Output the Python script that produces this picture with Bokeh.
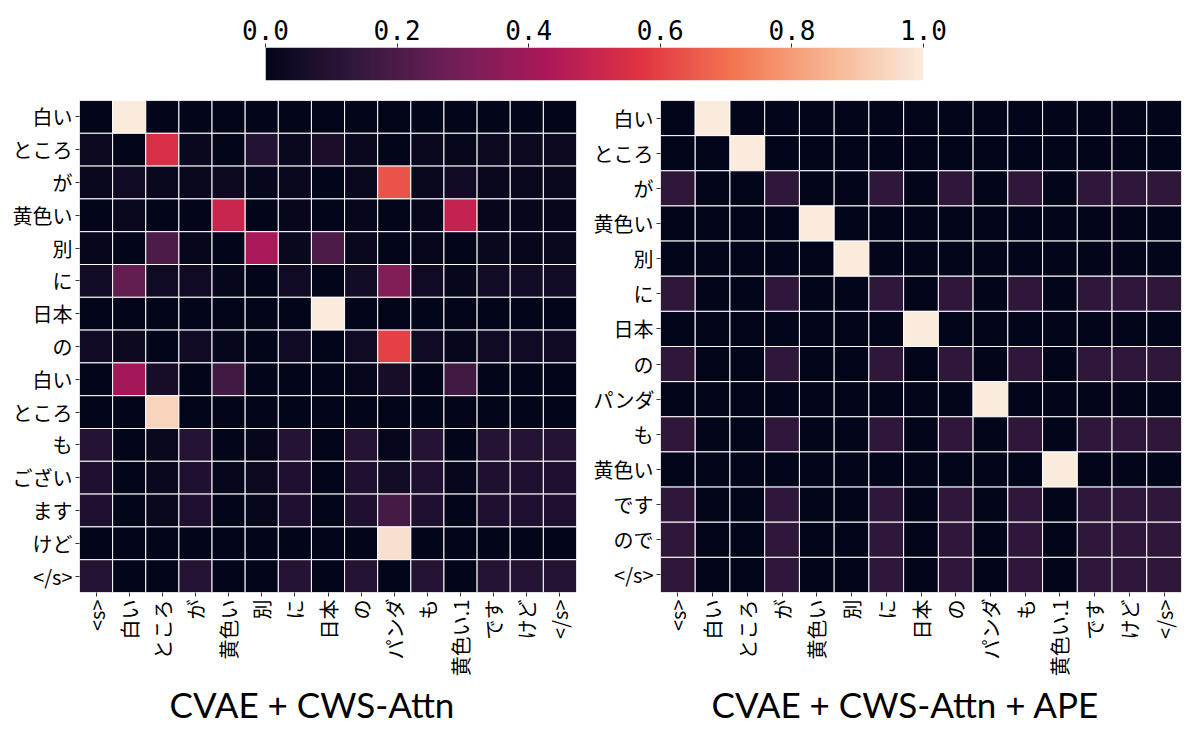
import math
import numpy as np
from bokeh.plotting import figure
from bokeh.models import (LinearColorMapper, FixedTicker, ColumnDataSource, Title,
                          Range1d, PrintfTickFormatter)
from bokeh.transform import transform
from bokeh.layouts import column, row
from bokeh.embed import file_html
from bokeh.resources import INLINE

# ---------------- data ----------------
col_labels = ["<s>", "白い", "ところ", "が", "黄色い", "別", "に", "日本", "の",
              "パンダ", "も", "黄色い.1", "です", "けど", "</s>"]
left_rows = ["白い", "ところ", "が", "黄色い", "別", "に", "日本", "の", "白い",
             "ところ", "も", "ござい", "ます", "けど", "</s>"]
right_rows = ["白い", "ところ", "が", "黄色い", "別", "に", "日本", "の", "パンダ",
              "も", "黄色い", "です", "ので", "</s>"]

left_values = [
    [0.00, 1.00, 0.00, 0.00, 0.00, 0.00, 0.00, 0.00, 0.00, 0.00, 0.00, 0.00, 0.00, 0.00, 0.00],
    [0.03, 0.00, 0.55, 0.02, 0.00, 0.09, 0.02, 0.07, 0.02, 0.00, 0.02, 0.01, 0.03, 0.03, 0.03],
    [0.02, 0.04, 0.02, 0.02, 0.03, 0.01, 0.02, 0.00, 0.02, 0.64, 0.02, 0.04, 0.02, 0.02, 0.02],
    [0.00, 0.02, 0.00, 0.00, 0.50, 0.00, 0.01, 0.00, 0.01, 0.00, 0.01, 0.49, 0.01, 0.01, 0.01],
    [0.01, 0.00, 0.20, 0.01, 0.00, 0.42, 0.02, 0.20, 0.02, 0.00, 0.01, 0.00, 0.02, 0.01, 0.02],
    [0.05, 0.25, 0.04, 0.04, 0.01, 0.00, 0.04, 0.00, 0.05, 0.33, 0.04, 0.01, 0.05, 0.05, 0.05],
    [0.00, 0.00, 0.00, 0.00, 0.00, 0.00, 0.00, 1.00, 0.00, 0.00, 0.00, 0.00, 0.00, 0.00, 0.00],
    [0.04, 0.03, 0.00, 0.04, 0.01, 0.00, 0.04, 0.00, 0.04, 0.60, 0.04, 0.01, 0.04, 0.04, 0.04],
    [0.00, 0.41, 0.06, 0.00, 0.17, 0.00, 0.00, 0.00, 0.01, 0.06, 0.00, 0.17, 0.00, 0.00, 0.00],
    [0.00, 0.00, 0.94, 0.00, 0.00, 0.00, 0.00, 0.00, 0.00, 0.00, 0.00, 0.00, 0.00, 0.00, 0.00],
    [0.10, 0.00, 0.02, 0.10, 0.00, 0.01, 0.10, 0.00, 0.10, 0.01, 0.10, 0.00, 0.10, 0.10, 0.10],
    [0.08, 0.00, 0.02, 0.08, 0.01, 0.03, 0.08, 0.00, 0.08, 0.05, 0.08, 0.01, 0.08, 0.08, 0.08],
    [0.08, 0.00, 0.02, 0.08, 0.00, 0.01, 0.08, 0.00, 0.08, 0.18, 0.08, 0.00, 0.08, 0.08, 0.08],
    [0.00, 0.00, 0.00, 0.00, 0.00, 0.00, 0.00, 0.00, 0.00, 0.97, 0.00, 0.00, 0.00, 0.00, 0.00],
    [0.10, 0.00, 0.00, 0.10, 0.00, 0.00, 0.10, 0.00, 0.10, 0.00, 0.10, 0.00, 0.10, 0.10, 0.10],
]

right_values = [
    [0.000, 1.000, 0.000, 0.000, 0.000, 0.000, 0.000, 0.000, 0.000, 0.000, 0.000, 0.000, 0.000, 0.000, 0.000],
    [0.000, 0.000, 1.000, 0.000, 0.000, 0.000, 0.000, 0.000, 0.000, 0.000, 0.000, 0.000, 0.000, 0.000, 0.000],
    [0.125, 0.000, 0.000, 0.125, 0.000, 0.000, 0.125, 0.000, 0.125, 0.000, 0.125, 0.000, 0.125, 0.125, 0.125],
    [0.000, 0.000, 0.000, 0.000, 1.000, 0.000, 0.000, 0.000, 0.000, 0.000, 0.000, 0.000, 0.000, 0.000, 0.000],
    [0.000, 0.000, 0.000, 0.000, 0.000, 1.000, 0.000, 0.000, 0.000, 0.000, 0.000, 0.000, 0.000, 0.000, 0.000],
    [0.125, 0.000, 0.000, 0.125, 0.000, 0.000, 0.125, 0.000, 0.125, 0.000, 0.125, 0.000, 0.125, 0.125, 0.125],
    [0.000, 0.000, 0.000, 0.000, 0.000, 0.000, 0.000, 1.000, 0.000, 0.000, 0.000, 0.000, 0.000, 0.000, 0.000],
    [0.125, 0.000, 0.000, 0.125, 0.000, 0.000, 0.125, 0.000, 0.125, 0.000, 0.125, 0.000, 0.125, 0.125, 0.125],
    [0.000, 0.000, 0.000, 0.000, 0.000, 0.000, 0.000, 0.000, 0.000, 1.000, 0.000, 0.000, 0.000, 0.000, 0.000],
    [0.125, 0.000, 0.000, 0.125, 0.000, 0.000, 0.125, 0.000, 0.125, 0.000, 0.125, 0.000, 0.125, 0.125, 0.125],
    [0.000, 0.000, 0.000, 0.000, 0.000, 0.000, 0.000, 0.000, 0.000, 0.000, 0.000, 1.000, 0.000, 0.000, 0.000],
    [0.125, 0.000, 0.000, 0.125, 0.000, 0.000, 0.125, 0.000, 0.125, 0.000, 0.125, 0.000, 0.125, 0.125, 0.125],
    [0.125, 0.000, 0.000, 0.125, 0.000, 0.000, 0.125, 0.000, 0.125, 0.000, 0.125, 0.000, 0.125, 0.125, 0.125],
    [0.125, 0.000, 0.000, 0.125, 0.000, 0.000, 0.125, 0.000, 0.125, 0.000, 0.125, 0.000, 0.125, 0.125, 0.125],
]

colorbar_ticks = [0.0, 0.2, 0.4, 0.6, 0.8, 1.0]
left_title = "CVAE + CWS-Attn"
right_title = "CVAE + CWS-Attn + APE"

# ---------------- rocket-like palette ----------------
anchor_hex = ["#03051a", "#35193e", "#701f57", "#ad1759", "#e13342",
              "#f37651", "#f6b48f", "#faebdd"]
anchor_pos = [0.0, 1 / 7, 2 / 7, 3 / 7, 4 / 7, 5 / 7, 6 / 7, 1.0]
anchor_rgb = np.array([[int(h[i:i + 2], 16) for i in (1, 3, 5)] for h in anchor_hex], float)
t = np.linspace(0, 1, 256)
palette = []
for tv in t:
    rgb = [np.interp(tv, anchor_pos, anchor_rgb[:, k]) for k in range(3)]
    palette.append("#%02x%02x%02x" % tuple(int(round(c)) for c in rgb))

mapper = LinearColorMapper(palette=palette, low=0.0, high=1.0)

JP_FONT = "Noto Sans CJK JP"
TITLE_FONT = "Lato"
FIG_H = 643


def heatmap(rows, values, title, width, bl, br, bt, bb, title_offset):
    ncol = len(col_labels)
    nrow = len(rows)
    xs, ys, vs = [], [], []
    for r, rv in enumerate(values):
        for c, v in enumerate(rv):
            xs.append(c + 0.5)
            ys.append(r + 0.5)
            vs.append(v)
    src = ColumnDataSource(dict(x=xs, y=ys, v=vs))
    p = figure(width=width, height=FIG_H, x_range=Range1d(0, ncol), y_range=Range1d(nrow, 0),
               output_backend="svg", toolbar_location=None,
               min_border_left=bl, min_border_right=br, min_border_top=bt, min_border_bottom=bb)
    p.rect(x="x", y="y", width=1, height=1, source=src,
           fill_color=transform("v", mapper), line_color="white", line_width=1)
    p.grid.visible = False
    p.outline_line_color = None
    p.background_fill_color = "white"
    p.border_fill_color = "white"

    p.xaxis.ticker = FixedTicker(ticks=[i + 0.5 for i in range(ncol)])
    p.xaxis.major_label_overrides = {i + 0.5: lab for i, lab in enumerate(col_labels)}
    p.xaxis.major_label_orientation = math.pi / 2
    p.yaxis.ticker = FixedTicker(ticks=[i + 0.5 for i in range(nrow)])
    p.yaxis.major_label_overrides = {i + 0.5: lab for i, lab in enumerate(rows)}
    for ax in (p.xaxis, p.yaxis):
        ax.axis_line_color = None
        ax.minor_tick_line_color = None
        ax.major_tick_in = 0
        ax.major_tick_out = 4
        ax.major_tick_line_color = "#333333"
        ax.major_label_text_font = JP_FONT
        ax.major_label_text_font_size = "20px"
        ax.major_label_text_color = "black"
        ax.major_label_standoff = 3

    p.add_layout(Title(text=title, align="left", text_font=TITLE_FONT,
                       text_font_size="35px", text_font_style="normal",
                       text_color="black", standoff=3, offset=title_offset), "below")
    return p


left = heatmap(left_rows, left_values, left_title, 585, 79, 9, 9, 134, 90)
right = heatmap(right_rows, right_values, right_title, 599, 75, 3, 12, 139, 51)

# ---------------- colorbar ----------------
cb = figure(width=1184, height=88, x_range=Range1d(0, 1), y_range=Range1d(0, 1),
            output_backend="svg", toolbar_location=None,
            x_axis_location="above", y_axis_location=None,
            min_border_left=265, min_border_right=261, min_border_top=47, min_border_bottom=8)
grad = np.array([np.linspace(0, 1, 256)])
cb.image(image=[grad], x=0, y=0, dw=1, dh=1, color_mapper=mapper)
cb.grid.visible = False
cb.outline_line_color = None
cb.xaxis.ticker = FixedTicker(ticks=colorbar_ticks)
cb.xaxis.formatter = PrintfTickFormatter(format="%.1f")
cb.xaxis.axis_line_color = None
cb.xaxis.minor_tick_line_color = None
cb.xaxis.major_tick_in = 0
cb.xaxis.major_tick_out = 4
cb.xaxis.major_tick_line_color = "#333333"
cb.xaxis.major_label_text_font = "DejaVu Sans Mono"
cb.xaxis.major_label_text_font_size = "26px"
cb.xaxis.major_label_text_color = "black"
cb.xaxis.major_label_standoff = 4

layout = column(cb, row(left, right))

open("out.html", "w").write(file_html(layout, INLINE))
